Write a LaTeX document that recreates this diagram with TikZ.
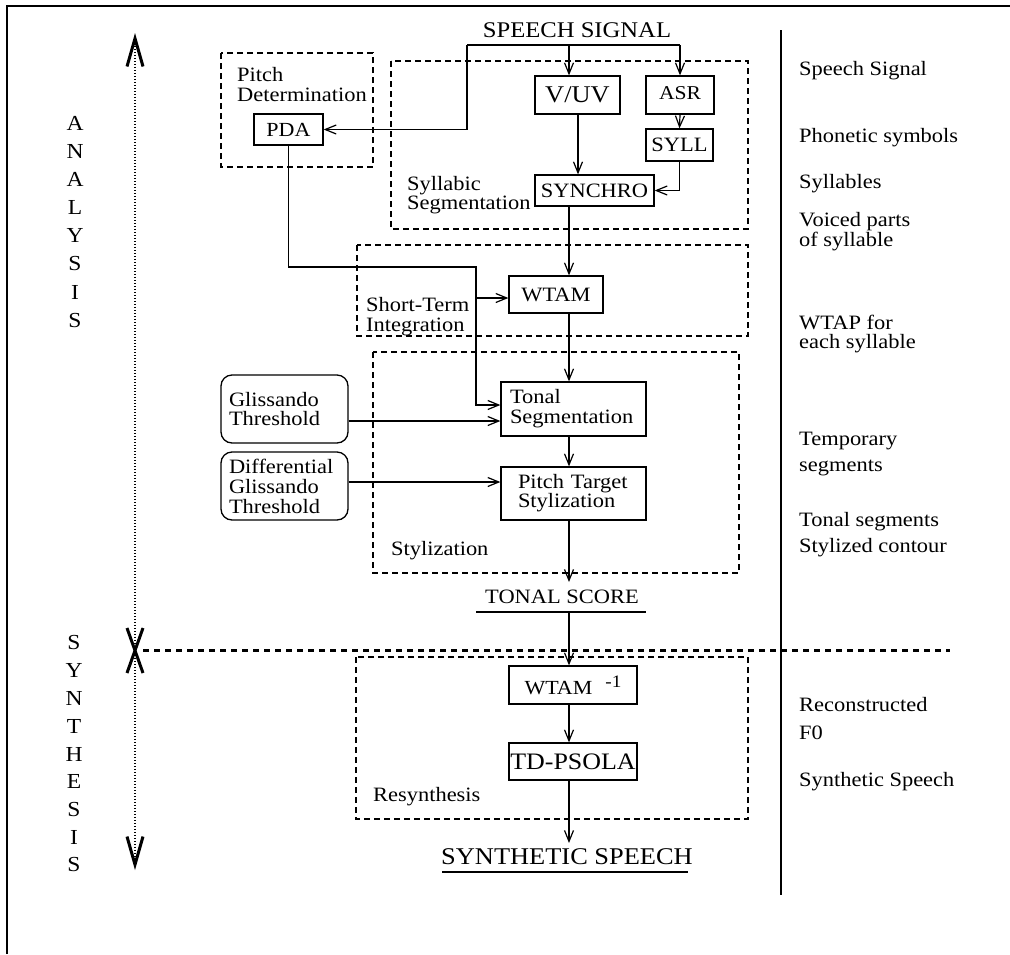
\documentclass[tikz,border=0pt]{standalone}
\usepackage{fontspec}
\setmainfont[FakeStretch=1.1]{Liberation Serif}
\usetikzlibrary{arrows.meta,calc}
\newcommand\fsz[2]{\fontsize{#1}{#2}\selectfont}
\begin{document}
\begin{tikzpicture}[x=1pt,y=-1pt,
  ln/.style={line width=1.2pt},
  arr/.style={ln,-{Straight Barb[length=11pt,width=9pt,line width=1.2pt]}},
  box/.style={draw,line width=1.3pt,inner sep=0pt,font=\fsz{20.4}{20}},
  grp/.style={line width=1.1pt,dash pattern=on 6pt off 4pt},
  lbl/.style={inner sep=0pt,anchor=west,align=left,font=\fsz{20.4}{20}},
  txt/.style={inner sep=0pt,font=\fsz{20.4}{20}},
  bigarr/.style={line width=2.5pt,dash pattern=on 1.4pt off 1.6pt,
    {Straight Barb[length=28pt,width=16pt,line width=3pt]}-{Straight Barb[length=28pt,width=16pt,line width=3pt]}},
]
\useasboundingbox (0,0) rectangle (1010,954);
% frame
\draw[line width=1.5pt] (7,954) -- (7,6) -- (1010,6);
\draw[line width=1.5pt] (781,30) -- (781,895);

% left axis
\draw[bigarr] (135,33) -- (135,870);
\draw[line width=3pt] (127,628) -- (143,673) (143,628) -- (127,673);
\draw[line width=3pt,dash pattern=on 6pt off 5pt] (143,650) -- (950,650);
\foreach \c [count=\i from 0] in {A,N,A,L,Y,S,I,S}
  \node[txt,font=\fsz{21.4}{20}] (an\i) at (75,123+28.2*\i) {\c};
\foreach \c [count=\i from 0] in {S,Y,N,T,H,E,S,I,S}
  \node[txt,font=\fsz{21.4}{20}] (sy\i) at (74,643+27.75*\i) {\c};

% right labels
\node[lbl] (r1) at (799,71) {Speech Signal};
\node[lbl] (r2) at (799,138) {Phonetic symbols};
\node[lbl] (r3) at (799,184) {Syllables};
\node[lbl] (r4) at (799,232) {Voiced parts\\of syllable};
\node[lbl,font=\fsz{20.4}{19.5}] (r5) at (799,334) {WTAP for\\each syllable};
\node[lbl,font=\fsz{20.4}{26}] (r6) at (799,454) {Temporary\\segments};
\node[lbl] (r7) at (799,522) {Tonal segments};
\node[lbl] (r8) at (799,548) {Stylized contour};
\node[lbl,font=\fsz{20.4}{28}] (r9) at (799,719) {Reconstructed\\F0};
\node[lbl] (r10) at (799,782) {Synthetic Speech};

% group frames
\draw[grp] (221,53) rectangle (373,167);
\node[lbl,font=\fsz{20.4}{20}] (gpd) at (237,85) {Pitch\\Determination};
\draw[grp] (391,61) rectangle (748,229);
\node[lbl,font=\fsz{20.4}{19}] (gss) at (407,195) {Syllabic\\Segmentation};
\draw[grp] (357,245) rectangle (748,336);
\node[lbl] (gst) at (366,317) {Short-Term\\Integration};
\draw[grp] (373,352) rectangle (739,573);
\node[lbl] (gsy) at (391,551) {Stylization};
\draw[grp] (356,657) rectangle (748,819);
\node[lbl] (grs) at (373,797) {Resynthesis};

% nodes
\node[txt,font=\fsz{22.4}{21}] (sig) at (577,30) {SPEECH SIGNAL};
\node[box,minimum width=85pt,minimum height=38pt,font=\fsz{24}{22}] (vuv) at (577.5,95) {V/UV};
\node[box,minimum width=68pt,minimum height=38pt,font=\fsz{19.6}{18}] (asr) at (680,95) {\raisebox{3pt}{ASR}};
\node[box,minimum width=67pt,minimum height=32pt] (syll) at (679.5,145) {SYLL};
\node[box,minimum width=119pt,minimum height=31pt] (synchro) at (594.5,190.5) {SYNCHRO};
\node[box,minimum width=69pt,minimum height=31pt,font=\fsz{20}{18}] (pda) at (288.5,129.5) {PDA};
\node[box,minimum width=94pt,minimum height=37pt] (wtam) at (556,294.5) {WTAM};
\node[box,minimum height=54pt,text width=127pt,inner xsep=9pt,align=left] (tonal) at (573.5,409) {Tonal\\Segmentation};
\node[box,minimum height=53pt,text width=111pt,inner xsep=17pt,align=left,font=\fsz{20.4}{19}] (pitch) at (573.5,493.5) {Pitch Target\\Stylization};
\node[box,rounded corners=11pt,minimum height=68pt,text width=111pt,inner xsep=8pt,align=left,font=\fsz{20.4}{19}] (glis) at (284.5,409) {Glissando\\Threshold};
\node[box,rounded corners=11pt,minimum height=68pt,text width=111pt,inner xsep=8pt,align=left] (dglis) at (284.5,486) {Differential\\Glissando\\Threshold};
\node[txt] (tscore) at (562,597) {TONAL SCORE};
\draw[line width=1.5pt] (476,612) -- (646,612);
\node[box,minimum width=128pt,minimum height=38pt,font=\fsz{20}{18}] (wtinv) at (573,685) {WTAM\hspace{13pt}\raisebox{7pt}{\fsz{17.5}{16}-1}};
\node[box,minimum width=128pt,minimum height=37pt,font=\fsz{23.6}{22}] (psola) at (573,761.5) {TD-PSOLA};
\node[txt,font=\fsz{24}{22}] (synth) at (567,857) {SYNTHETIC SPEECH};
\draw[line width=1.5pt] (442,872) -- (688,872);

% coordinates
\coordinate (jl) at (467,45);
\coordinate (j0) at (569,45);
\coordinate (jr) at (680,45);
\coordinate (pk) at (476,267);
\coordinate (pk2) at (476,405);
\coordinate (tsb) at (569,612);
\coordinate (tst) at (569,582);
\coordinate (sst) at (569,843);

% connectors
\draw[ln] (jl) -- (jr);
\draw[arr] (j0) -- (j0 |- vuv.north);
\draw[arr] (jr) -- (asr.north);
\draw[arr] (jl) |- (pda.east);
\draw[arr] (asr.south) -- (syll.north);
\draw[arr] ([xshift=0.5pt]vuv.south) -- ([xshift=0.5pt]vuv.south |- synchro.north);
\draw[arr] (syll.south) |- (synchro.east);
\draw[arr] (j0 |- synchro.south) -- (j0 |- wtam.north);
\draw[arr] (j0 |- wtam.south) -- (j0 |- tonal.north);
\draw[arr] (j0 |- tonal.south) -- (j0 |- pitch.north);
\draw[arr] (j0 |- pitch.south) -- (tst);
\draw[arr] (tsb) -- (tsb |- wtinv.north);
\draw[arr] (j0 |- wtinv.south) -- (j0 |- psola.north);
\draw[arr] (j0 |- psola.south) -- (sst);
\draw[arr] (pda.south) |- (pk) -- (pk2) -- (pk2 -| tonal.west);
\draw[arr] ([yshift=-3.5pt]pk |- wtam.west) -- ([yshift=-3.5pt]wtam.west);
\draw[arr] ([yshift=-12pt]glis.east) -- ([yshift=-12pt]tonal.west);
\draw[arr] ([yshift=4pt]dglis.east) -- ([yshift=4pt]dglis.east -| pitch.west);
\end{tikzpicture}
\end{document}
